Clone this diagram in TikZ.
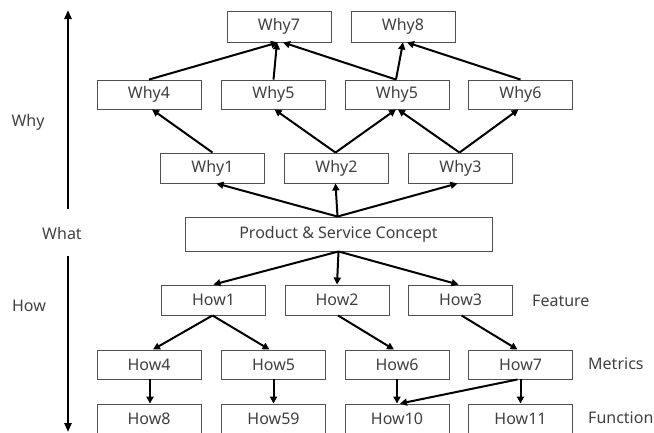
\documentclass[tikz,border=0pt]{standalone}
\usepackage{fontspec}
\setmainfont{Noto Sans}
\usetikzlibrary{arrows.meta}
\definecolor{ink}{RGB}{64,64,64}
\definecolor{frame}{RGB}{80,80,80}
\begin{document}
\begin{tikzpicture}[x=1pt,y=-1pt,
  box/.style={draw=frame,line width=0.9pt,fill=white,minimum width=104pt,minimum height=30pt,
    inner sep=0pt,text=ink,font=\fontsize{16}{18}\selectfont},
  wide/.style={box,minimum width=307pt,minimum height=34pt},
  lbl/.style={text=ink,font=\fontsize{16}{18}\selectfont,inner sep=0pt},
  arr/.style={line width=2pt,-{Triangle[length=7pt,width=7pt]}},
  axis/.style={line width=2.4pt,-{Triangle[length=9pt,width=7pt]}}]
\useasboundingbox (0,0) rectangle (654,432);

% top level of reasons
\node[box,minimum height=31pt] (why7) at (279,26.5) {Why7};
\node[box,minimum height=31pt] (why8) at (403,26.5) {Why8};
% middle level of reasons
\node[box,minimum height=29pt] (why4) at (149,94.5) {Why4};
\node[box,minimum height=29pt] (why5a) at (273.5,94.5) {Why5};
\node[box,minimum height=29pt] (why5b) at (397,94.5) {Why5};
\node[box,minimum height=29pt] (why6) at (520.5,94.5) {Why6};
% first level of reasons
\node[box] (why1) at (212.5,168) {Why1};
\node[box] (why2) at (336.5,168) {Why2};
\node[box] (why3) at (460.5,168) {Why3};
% concept
\node[wide] (pc) at (338.5,234) {Product \& Service Concept};
% features
\node[box] (how1) at (213.5,300) {How1};
\node[box] (how2) at (337,300) {How2};
\node[box] (how3) at (460.5,300) {How3};
% metrics
\node[box,minimum height=29pt] (how4) at (149,364.5) {How4};
\node[box,minimum height=29pt] (how5) at (273.5,364.5) {How5};
\node[box,minimum height=29pt] (how6) at (397,364.5) {How6};
\node[box,minimum height=29pt] (how7) at (520.5,364.5) {How7};
% functions
\node[box] (how8) at (149,419) {How8};
\node[box] (how59) at (273.5,419) {How59};
\node[box] (how10) at (397,419) {How10};
\node[box] (how11) at (520.5,419) {How11};

% side labels
\node[lbl] (lwhy) at (28,122) {Why};
\node[lbl] (lwhat) at (62,233) {What};
\node[lbl] (lhow) at (29,306) {How};
\node[lbl,anchor=west] (lfeat) at (532,301) {Feature};
\node[lbl,anchor=west] (lmet) at (588,364) {Metrics};
\node[lbl,anchor=west] (lfun) at (588,418) {Function};

% vertical axis
\coordinate (upS) at (68,209);
\coordinate (upE) at (68,10);
\coordinate (dnS) at (68,256);
\coordinate (dnE) at (68,432);
\draw[axis] (upS) -- (upE);
\draw[axis] (dnS) -- (dnE);

% why links
\draw[arr] (why4.north) -- ([xshift=-1pt]why7.south);
\draw[arr] (why5a.north) -- ([xshift=-2pt]why7.south);
\draw[arr] ([xshift=-1pt]why5b.north) -- ([xshift=4pt]why7.south);
\draw[arr] ([xshift=-1pt]why5b.north) -- (why8.south);
\draw[arr] (why6.north) -- ([xshift=4pt]why8.south);
\draw[arr] (why1.north) -- ([xshift=3pt]why4.south);
\draw[arr] ([xshift=-1pt]why2.north) -- ([xshift=1pt]why5a.south);
\draw[arr] ([xshift=-1pt]why2.north) -- ([xshift=-1pt]why5b.south);
\draw[arr] ([xshift=-1pt]why3.north) -- ([xshift=1pt]why5b.south);
\draw[arr] ([xshift=-1pt]why3.north) -- ([xshift=-2pt]why6.south);
\draw[arr] ([xshift=-1pt]pc.north) -- ([xshift=4pt]why1.south);
\draw[arr] ([xshift=-1pt]pc.north) -- ([xshift=-1pt]why2.south);
\draw[arr] ([xshift=-1pt]pc.north) -- ([xshift=-3pt]why3.south);

% how links
\draw[arr] (pc.south) -- (how1.north);
\draw[arr] (pc.south) -- (how2.north);
\draw[arr] (pc.south) -- ([xshift=-2pt]how3.north);
\draw[arr] ([xshift=-1pt]how1.south) -- ([xshift=4pt]how4.north);
\draw[arr] ([xshift=-1pt]how1.south) -- ([xshift=-4pt]how5.north);
\draw[arr] ([xshift=1pt]how2.south) -- ([xshift=-3pt]how6.north);
\draw[arr] ([xshift=1pt]how3.south) -- ([xshift=-3pt]how7.north);
\draw[arr] ([xshift=1pt]how4.south) -- ([xshift=1pt]how8.north);
\draw[arr] (how5.south) -- (how59.north);
\draw[arr] (how6.south) -- (how10.north);
\draw[arr] ([xshift=-3pt]how7.south) -- ([xshift=3pt]how10.north);
\draw[arr] (how7.south) -- (how11.north);
\end{tikzpicture}
\end{document}
